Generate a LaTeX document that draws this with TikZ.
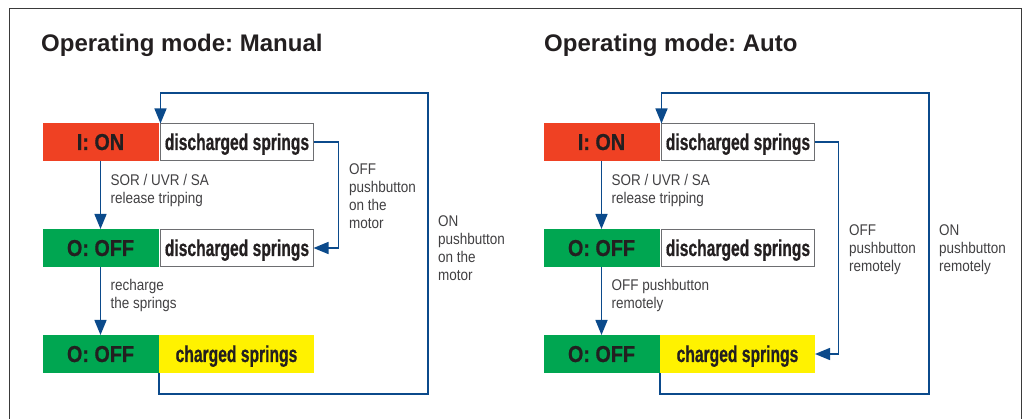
\documentclass[tikz,border=0pt]{standalone}
\usepackage{fontspec}
\setmainfont{Liberation Sans}
\newfontfamily\titlefont{Liberation Sans}
\newfontfamily\statefont[FakeStretch=0.86,FakeBold=0.6]{Liberation Sans Bold}
\newfontfamily\springfont[FakeStretch=0.68,FakeBold=0.6]{Liberation Sans Bold}
\newfontfamily\labfont[FakeStretch=0.87]{Liberation Sans}
\usetikzlibrary{arrows.meta}
\definecolor{onred}{HTML}{EF4123}
\definecolor{offgreen}{HTML}{00A651}
\definecolor{chyellow}{HTML}{FFF200}
\definecolor{flowblue}{HTML}{0B4A8B}
\definecolor{boxgray}{HTML}{6D6E71}
\definecolor{txtdark}{HTML}{231F20}
\definecolor{labgray}{HTML}{414042}
\definecolor{framegray}{HTML}{3A3A3A}
\frenchspacing
\begin{document}
\begin{tikzpicture}[x=1pt,y=-1pt,
  box/.style={minimum height=38pt, inner sep=0pt, outer sep=0pt, text height=16pt, text depth=0pt, text=txtdark},
  statebox/.style={box, minimum width=116pt, font=\statefont\fontsize{23}{23}\selectfont},
  onbox/.style={statebox, fill=onred},
  offbox/.style={statebox, fill=offgreen},
  dsbox/.style={box, minimum width=153pt, minimum height=37pt, draw=boxgray, line width=1.2pt, fill=white, font=\springfont\fontsize{23}{23}\selectfont},
  chbox/.style={box, minimum width=155pt, fill=chyellow, font=\springfont\fontsize{23}{23}\selectfont},
  lab/.style={font=\labfont\fontsize{15.5}{18}\selectfont, text=labgray, align=left, inner sep=0pt, anchor=base west},
  ttl/.style={font=\titlefont\bfseries\fontsize{24}{24}\selectfont, text=txtdark, inner sep=0pt, anchor=base west},
  arr/.style={draw=flowblue, line width=1.5pt, -{Triangle[length=15pt,width=12pt]}},
  frame/.style={draw=framegray, line width=1.5pt}
]
\useasboundingbox (0,0) rectangle (1028,419);
\draw[frame] (9.5,419) -- (9.5,8.7) -- (1021.7,8.7) -- (1021.7,419);

% ---------- Manual ----------
\node[ttl] (Lttl) at (41,52) {Operating mode: Manual};
\node[onbox] (Lon) at (100.5,142) {I: ON};
\node[dsbox] (Lds1) at (237,142) {discharged springs};
\node[offbox] (Loff1) at (100.5,248) {O: OFF};
\node[dsbox] (Lds2) at (237,248) {discharged springs};
\node[offbox] (Loff2) at (100.5,354) {O: OFF};
\node[chbox] (Lch) at (236.5,354) {charged springs};

\draw[arr] (Lon.south) -- (Loff1.north);
\draw[arr] (Loff1.south) -- (Loff2.north);
\draw[arr] (Lds1.east) -- ++(25,0) |- (Lds2.east);
\coordinate (Lb) at (428,394);
\coordinate (Lt) at (428,93);
\draw[arr] (Lch.south west) |- (Lb) -- (Lt) -| (Lds1.north west);

\node[lab] (Llab1) at (110.5,204) {SOR / UVR / SA\\release tripping};
\node[lab] (Llab2) at (110.5,309) {recharge\\the springs};
\node[lab] (Llab3) at (349,229) {OFF\\pushbutton\\on the\\motor};
\node[lab] (Llab4) at (438,281) {ON\\pushbutton\\on the\\motor};

% ---------- Auto ----------
\node[ttl] (Rttl) at (544,52) {Operating mode: Auto};
\node[onbox] (Ron) at (601.5,142) {I: ON};
\node[dsbox] (Rds1) at (738,142) {discharged springs};
\node[offbox] (Roff1) at (601.5,248) {O: OFF};
\node[dsbox] (Rds2) at (738,248) {discharged springs};
\node[offbox] (Roff2) at (601.5,354) {O: OFF};
\node[chbox] (Rch) at (737.5,354) {charged springs};

\draw[arr] (Ron.south) -- (Roff1.north);
\draw[arr] (Roff1.south) -- (Roff2.north);
\draw[arr] (Rds1.east) -- ++(24,0) |- (Rch.east);
\coordinate (Rb) at (929,394);
\coordinate (Rt) at (929,93);
\draw[arr] (Rch.south west) |- (Rb) -- (Rt) -| (Rds1.north west);

\node[lab] (Rlab1) at (611.5,204) {SOR / UVR / SA\\release tripping};
\node[lab] (Rlab2) at (611.5,309) {OFF pushbutton\\remotely};
\node[lab] (Rlab3) at (849,272) {OFF\\pushbutton\\remotely};
\node[lab] (Rlab4) at (939,272) {ON\\pushbutton\\remotely};
\end{tikzpicture}
\end{document}
